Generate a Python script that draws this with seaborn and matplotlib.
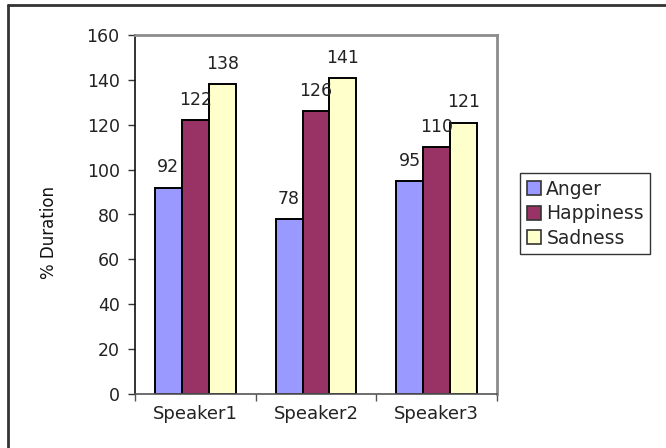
import matplotlib
matplotlib.use("Agg")
import matplotlib.pyplot as plt
from matplotlib.lines import Line2D
import pandas as pd
import seaborn as sns

speakers = ["Speaker1", "Speaker2", "Speaker3"]
emotions = ["Anger", "Happiness", "Sadness"]
anger = [92, 78, 95]
happiness = [122, 126, 110]
sadness = [138, 141, 121]
colors = ["#9999FF", "#993366", "#FFFFCC"]
y_ticks = [0, 20, 40, 60, 80, 100, 120, 140, 160]

df = pd.DataFrame({
    "Speaker": speakers * 3,
    "Emotion": [e for e in emotions for _ in speakers],
    "Duration": anger + happiness + sadness,
})

sns.set_theme(style="white")
plt.rcParams["font.family"] = ["DejaVu Sans"]

W, H = 666, 448
fig = plt.figure(figsize=(W / 100, H / 100), dpi=100)
ax = fig.add_axes([135 / W, 1 - 394 / H, (497 - 135) / W, (394 - 35) / H])

sns.barplot(data=df, x="Speaker", y="Duration", hue="Emotion",
            order=speakers, hue_order=emotions, palette=colors,
            width=0.67, gap=0, edgecolor="black", linewidth=1.4,
            saturation=1, errorbar=None, legend=False, ax=ax)

for cont in ax.containers:
    ax.bar_label(cont, fmt="%d", padding=8, fontsize=12.5, color="#222222")

ax.set_xlim(-0.5, 2.5)
ax.set_ylim(0, 160)
ax.set_yticks(y_ticks)
ax.set_yticklabels([str(v) for v in y_ticks], fontsize=12.5, color="#222222")
ax.tick_params(axis="y", direction="out", length=5, width=1, color="#333333", pad=6, left=True)

# category boundaries carry the tick marks, labels sit at the centres
ax.set_xticks([-0.5, 0.5, 1.5, 2.5])
ax.set_xticklabels(["", "", "", ""])
ax.set_xticks([0, 1, 2], minor=True)
ax.set_xticklabels(speakers, minor=True, fontsize=13, color="#222222")
ax.tick_params(axis="x", which="major", direction="out", length=5, width=1, color="#555555", bottom=True)
ax.tick_params(axis="x", which="minor", length=0, pad=8)

ax.set_xlabel("")
ax.set_ylabel("% Duration", fontsize=12, color="#111111")
ax.yaxis.set_label_coords(-0.213, 0.45)

for side in ["top", "right"]:
    ax.spines[side].set_visible(True)
    ax.spines[side].set_color("#8c8c8c")
    ax.spines[side].set_linewidth(2)
ax.spines["left"].set_color("#111111")
ax.spines["left"].set_linewidth(1.2)
ax.spines["bottom"].set_color("#555555")
ax.spines["bottom"].set_linewidth(1.2)

handles = [plt.Rectangle((0, 0), 1, 1, facecolor=c, edgecolor="#333333", linewidth=1.2)
           for c in colors]
leg = fig.legend(handles, emotions, loc="upper left",
                 bbox_to_anchor=(520 / W, 1 - 173 / H),
                 fontsize=13.5, frameon=True, fancybox=False,
                 handlelength=0.75, handleheight=0.75, handletextpad=0.3,
                 labelspacing=0.3, borderpad=0.35, borderaxespad=0)
leg.get_frame().set_edgecolor("black")
leg.get_frame().set_linewidth(1)

# outer chart frame (left and top edges visible)
fig.add_artist(Line2D([8 / W, 8 / W], [0, 1 - 5 / H], transform=fig.transFigure,
                      color="#333333", linewidth=2))
fig.add_artist(Line2D([8 / W, 1], [1 - 5 / H, 1 - 5 / H], transform=fig.transFigure,
                      color="#333333", linewidth=2))

fig.savefig("out.png", dpi=100)
